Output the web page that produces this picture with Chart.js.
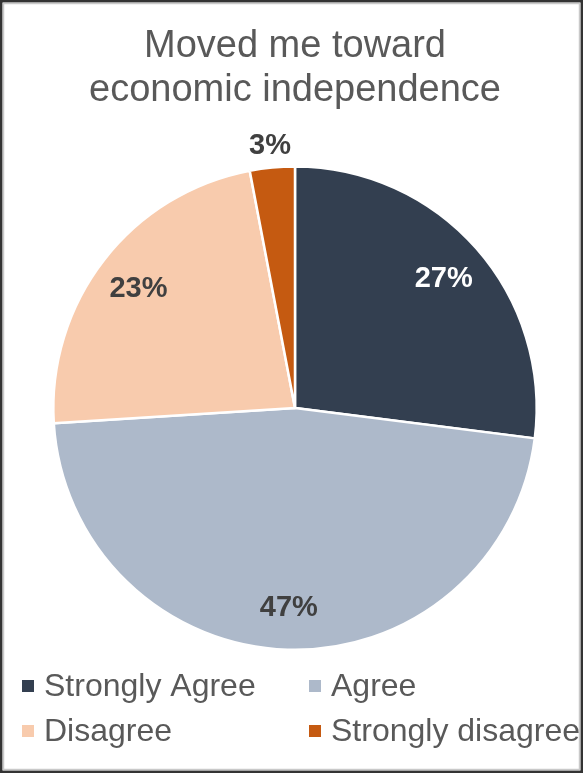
<!DOCTYPE html>
<html>
<head>
<meta charset="utf-8">
<script src="https://cdn.jsdelivr.net/npm/chart.js@4.4.1/dist/chart.umd.min.js"></script>
<style>
  html, body { margin: 0; padding: 0; background: #fff; }
  #wrap { width: 583px; height: 773px; }
</style>
</head>
<body>
<div id="wrap"><canvas id="myChart" width="583" height="773"></canvas></div>
<script>
const chartTitle = ['Moved me toward', 'economic independence'];
const categories = ['Strongly Agree', 'Agree', 'Disagree', 'Strongly disagree'];
const shares = [27, 47, 23, 3];
const sliceColors = ['#333F50', '#ADB9CA', '#F8CBAD', '#C55A11'];
const labelColors = ['#FFFFFF', '#404040', '#404040', '#404040'];

const fontFamily = '"Liberation Sans", Arial, sans-serif';

// white background and the double grey frame round the card
const frame = {
    id: 'frame',
    beforeDraw(chart) {
        const ctx = chart.ctx;
        const w = chart.width, h = chart.height;
        ctx.save();
        ctx.fillStyle = '#fff';
        ctx.fillRect(0, 0, w, h);
        ctx.strokeStyle = '#333333';
        ctx.lineWidth = 2.5;
        ctx.strokeRect(1.25, 1.25, w - 2.5, h - 2.5);
        ctx.strokeStyle = '#c9c9c9';
        ctx.lineWidth = 1.5;
        ctx.strokeRect(3.5, 3.5, w - 7, h - 7);
        ctx.restore();
    }
};

// percentage on each slice, small slices get it just outside the rim
const percentLabels = {
    id: 'percentLabels',
    afterDatasetsDraw(chart) {
        const ctx = chart.ctx;
        const meta = chart.getDatasetMeta(0);
        ctx.save();
        ctx.font = 'bold 29px ' + fontFamily;
        ctx.textAlign = 'center';
        ctx.textBaseline = 'middle';
        meta.data.forEach((arc, i) => {
            const p = arc.getProps(['x', 'y', 'startAngle', 'endAngle', 'outerRadius'], true);
            const mid = (p.startAngle + p.endAngle) / 2;
            const small = shares[i] < 5;
            const r = small ? p.outerRadius + 24 : p.outerRadius * 0.82;
            ctx.fillStyle = small ? '#404040' : labelColors[i];
            ctx.fillText(shares[i] + '%', p.x + Math.cos(mid) * r, p.y + Math.sin(mid) * r + 2);
        });
        ctx.restore();
    }
};

// two column legend under the pie
const gridLegend = {
    id: 'gridLegend',
    afterDraw(chart) {
        const ctx = chart.ctx;
        const cols = [22, 309];
        const rows = [686, 731];
        ctx.save();
        ctx.font = '32px ' + fontFamily;
        ctx.textBaseline = 'middle';
        ctx.textAlign = 'left';
        categories.forEach((name, i) => {
            const x = cols[i % 2];
            const y = rows[Math.floor(i / 2)];
            ctx.fillStyle = sliceColors[i];
            ctx.fillRect(x, y - 6, 12, 12);
            ctx.fillStyle = '#595959';
            ctx.fillText(name, x + 22, y + 1);
        });
        ctx.restore();
    }
};

const data = {
    labels: categories,
    datasets: [{
        data: shares,
        backgroundColor: sliceColors,
        borderColor: '#ffffff',
        borderWidth: 2.5
    }]
};

const config = {
    type: 'pie',
    data,
    options: {
        responsive: false,
        animation: false,
        devicePixelRatio: 1,
        layout: {
            padding: { top: 0, bottom: 122, left: 52, right: 45 }
        },
        plugins: {
            legend: { display: false },
            tooltip: { enabled: false },
            title: {
                display: true,
                text: chartTitle,
                color: '#595959',
                font: { family: fontFamily, size: 38, weight: 'normal', lineHeight: 1.16 },
                padding: { top: 24, bottom: 53 }
            }
        }
    },
    plugins: [frame, percentLabels, gridLegend]
};

new Chart(document.getElementById('myChart'), config);
</script>
</body>
</html>
